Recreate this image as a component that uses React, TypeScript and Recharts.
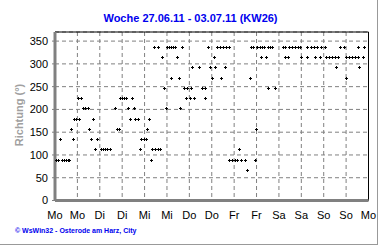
import React from 'react';
import { ScatterChart, Scatter, XAxis, YAxis, CartesianGrid, ReferenceLine } from 'recharts';

// Stunden seit Mo 00:00 und Windrichtung (Grad)
const hours = [
  0.5, 1.7, 2.5, 4.0, 4.9, 5.8, 6.7, 7.6, 8.4, 9.6,
  10.3, 11.5, 12.3, 13.0, 14.2, 15.0, 16.3, 17.6, 18.1, 19.1,
  20.2, 21.3, 22.3, 24.5, 25.8, 27.0, 28.1, 29.3, 31.9, 33.2,
  34.4, 35.1, 36.1, 37.1, 38.1, 39.1, 40.2, 41.4, 42.5, 43.1,
  44.4, 45.5, 46.3, 47.5, 48.6, 49.3, 50.4, 51.4, 52.2, 53.0,
  53.6, 55.0, 55.2, 56.5, 57.4, 58.3, 59.5, 60.1, 61.1, 62.1,
  62.2, 63.1, 64.2, 65.3, 66.5, 67.0, 68.1, 69.2, 70.0, 70.9,
  72.1, 72.7, 73.3, 74.6, 77.1, 78.6, 80.4, 80.5, 81.8, 83.1,
  84.2, 85.3, 86.0, 87.0, 88.5, 89.0, 90.0, 91.2, 91.5, 93.0,
  93.4, 94.8, 96.3, 97.7, 98.6, 99.8, 101.6, 103.0, 104.3, 105.0,
  106.3, 107.1, 107.8, 108.5, 109.7, 110.5, 110.9, 112.2, 113.3, 114.0,
  114.4, 115.3, 116.5, 117.9, 122.0, 123.3, 123.5, 125.0, 125.5, 127.0,
  128.5, 130.0, 131.5, 132.0, 134.8, 135.0, 137.0, 139.0, 139.2, 140.5,
  141.9, 142.5, 144.5, 145.1, 146.7, 148.3, 150.0, 150.8, 151.8, 152.6,
  154.8, 155.9, 156.2, 157.8, 159.4, 161.0, 162.5, 162.6, 163.0, 164.8,
  165.6,
];
const directions = [
  90, 90, 135, 90, 90, 90, 90, 90, 157.5, 135,
  180, 180, 225, 180, 225, 202.5, 202.5, 202.5, 157.5, 135,
  180, 112.5, 135, 112.5, 112.5, 112.5, 112.5, 112.5, 202.5, 157.5,
  157.5, 225, 225, 225, 225, 202.5, 180, 225, 202.5, 180,
  180, 112.5, 135, 135, 135, 157.5, 180, 90, 112.5, 337.5,
  112.5, 112.5, 337.5, 112.5, 315, 247.5, 202.5, 337.5, 337.5, 337.5,
  270, 337.5, 337.5, 315, 270, 202.5, 337.5, 247.5, 225, 247.5,
  225, 247.5, 292.5, 225, 292.5, 247.5, 247.5, 225, 337.5, 292.5,
  270, 315, 292.5, 337.5, 337.5, 270, 337.5, 292.5, 337.5, 337.5,
  90, 90, 90, 90, 112.5, 90, 90, 67.5, 270, 337.5,
  337.5, 90, 157.5, 337.5, 337.5, 315, 337.5, 337.5, 315, 337.5,
  247.5, 337.5, 337.5, 247.5, 337.5, 337.5, 315, 315, 337.5, 337.5,
  337.5, 337.5, 337.5, 315, 315, 337.5, 337.5, 337.5, 315, 337.5,
  315, 337.5, 337.5, 315, 315, 315, 315, 292.5, 315, 337.5,
  337.5, 270, 315, 315, 315, 315, 315, 337.5, 292.5, 315,
  337.5,
];

const dayLabels = ['Mo', 'Mo', 'Di', 'Di', 'Mi', 'Mi', 'Do', 'Do', 'Fr', 'Fr', 'Sa', 'Sa', 'So', 'So', 'Mo'];
const xTicks = [0, 12, 24, 36, 48, 60, 72, 84, 96, 108, 120, 132, 144, 156, 168];
const minorTicks = Array.from({ length: 85 }, (_, i) => i * 2);
const yTicks = [0, 50, 100, 150, 200, 250, 300, 350];

const data = hours.map((h, i) => ({ h, dir: directions[i] }));

const FONT = '"Liberation Sans", Arial, sans-serif';
const GRAY = '#808080';

const Cross = (props: any) => {
  const { cx, cy } = props;
  if (cx == null || cy == null) return null;
  const x = Math.round(cx) + 0.5;
  const y = Math.round(cy) + 0.5;
  return (
    <path
      d={`M${x - 1.5} ${y}H${x + 1.5}M${x} ${y - 1.5}V${y + 1.5}`}
      stroke="#000"
      strokeWidth={1}
      fill="none"
    />
  );
};

export default function App() {
  return (
    <div
      style={{
        position: 'absolute',
        left: 0,
        top: 0,
        width: 377,
        height: 244,
        background: '#fff',
        borderRight: '1px solid #999',
        borderBottom: '1px solid #999',
      }}
    >
      <ScatterChart width={380} height={245} margin={{ top: 32, right: 11.5, bottom: 14.5, left: 0 }}>
        <CartesianGrid stroke={GRAY} strokeDasharray="4 3" />
        <XAxis
          type="number"
          dataKey="h"
          domain={[0, 168]}
          ticks={xTicks}
          tickFormatter={(v: number) => dayLabels[Math.round(v / 12)]}
          interval={0}
          height={30}
          tickLine={false}
          tickSize={0}
          tickMargin={11}
          axisLine={{ stroke: GRAY, strokeWidth: 3 }}
          tick={{ fontSize: 11, fill: '#000', fontFamily: FONT }}
        />
        <XAxis
          xAxisId="minor"
          type="number"
          dataKey="h"
          domain={[0, 168]}
          ticks={minorTicks}
          interval={0}
          mirror
          height={0}
          tick={false}
          axisLine={false}
          tickSize={3}
          tickLine={{ stroke: GRAY }}
        />
        <YAxis
          type="number"
          dataKey="dir"
          domain={[0, 370]}
          ticks={yTicks}
          interval={0}
          width={55}
          tickSize={3}
          tickMargin={4}
          tickLine={{ stroke: GRAY }}
          axisLine={{ stroke: GRAY, strokeWidth: 3 }}
          tick={{ fontSize: 11, fill: '#000', fontFamily: FONT }}
        />
        <ReferenceLine y={370} stroke="#000" strokeWidth={1} />
        <ReferenceLine x={168} stroke="#000" strokeWidth={1} />
        <Scatter data={data} shape={<Cross />} isAnimationActive={false} />
      </ScatterChart>
      <svg
        width={380}
        height={245}
        style={{ position: 'absolute', left: 0, top: 0, pointerEvents: 'none' }}
      >
        <text x={190.5} y={22} textAnchor="middle" fontFamily={FONT} fontWeight="bold" fontSize={11} fill="#0000ee">
          Woche 27.06.11 - 03.07.11 (KW26)
        </text>
        <text
          transform="translate(23, 115) rotate(-90)"
          textAnchor="middle"
          fontFamily={FONT}
          fontWeight="bold"
          fontSize={11}
          fill="#a0a0a0"
        >
          Richtung (°)
        </text>
        <text x={15} y={233} fontFamily={FONT} fontWeight="bold" fontSize={7} fill="#0000ee">
          © WsWin32 - Osterode am Harz, City
        </text>
      </svg>
    </div>
  );
}
